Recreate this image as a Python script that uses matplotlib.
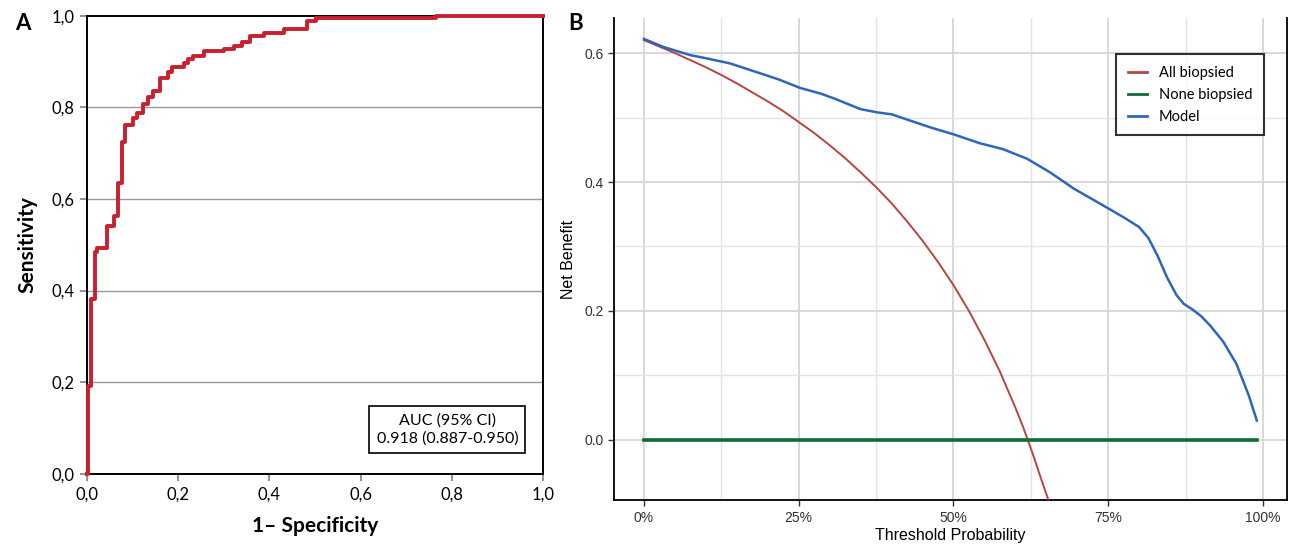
import matplotlib
matplotlib.use('Agg')
import matplotlib.pyplot as plt
from matplotlib.ticker import FixedLocator, FuncFormatter

# panel A: ROC curve, step corners (fpr where tpr jumps)
roc_fpr = [0.0, 0.003, 0.009, 0.017, 0.022, 0.044, 0.060, 0.069, 0.077, 0.084,
           0.101, 0.110, 0.124, 0.134, 0.145, 0.161, 0.177, 0.187, 0.214, 0.221,
           0.233, 0.256, 0.300, 0.323, 0.340, 0.357, 0.389, 0.432, 0.482, 0.502,
           0.764, 1.0]
roc_tpr = [0.0, 0.192, 0.382, 0.485, 0.492, 0.541, 0.563, 0.635, 0.725, 0.761,
           0.777, 0.788, 0.808, 0.823, 0.836, 0.865, 0.876, 0.887, 0.896, 0.905,
           0.913, 0.924, 0.927, 0.934, 0.942, 0.956, 0.962, 0.970, 0.988, 0.995,
           1.0, 1.0]
auc_text = 'AUC (95% CI)\n0.918 (0.887-0.950)'

# panel B: decision curve
all_pt = [0.0, 0.025, 0.05, 0.075, 0.10, 0.125, 0.15, 0.175, 0.20, 0.225, 0.25,
          0.275, 0.30, 0.325, 0.35, 0.375, 0.40, 0.425, 0.45, 0.475, 0.50, 0.525,
          0.55, 0.575, 0.60, 0.6125, 0.62, 0.63, 0.64, 0.66]
all_nb = [0.620, 0.610, 0.600, 0.589, 0.578, 0.566, 0.553, 0.539, 0.525, 0.510,
          0.493, 0.476, 0.457, 0.437, 0.415, 0.392, 0.367, 0.339, 0.309, 0.276,
          0.240, 0.200, 0.155, 0.106, 0.050, 0.020, 0.0, -0.027, -0.056, -0.112]

none_pt = [0.0, 0.99]
none_nb = [0.0, 0.0]

model_pt = [0.0, 0.03, 0.074, 0.10, 0.139, 0.177, 0.218, 0.252, 0.286, 0.306,
            0.35, 0.377, 0.40, 0.437, 0.465, 0.50, 0.543, 0.58, 0.619, 0.656,
            0.694, 0.732, 0.752, 0.777, 0.800, 0.815, 0.830, 0.845, 0.860, 0.872,
            0.885, 0.900, 0.915, 0.936, 0.957, 0.977, 0.99]
model_nb = [0.622, 0.610, 0.597, 0.592, 0.584, 0.572, 0.559, 0.546, 0.537, 0.530,
            0.513, 0.508, 0.505, 0.493, 0.484, 0.474, 0.460, 0.451, 0.436, 0.415,
            0.390, 0.369, 0.358, 0.344, 0.330, 0.313, 0.285, 0.252, 0.225, 0.211,
            0.203, 0.192, 0.177, 0.152, 0.118, 0.069, 0.030]

fig = plt.figure(figsize=(12.91, 5.45), dpi=100)

# ---------------- A ----------------
axA = fig.add_axes([0.0672, 0.1308, 0.3537, 0.8404])
calib = ['Lato', 'DejaVu Sans']
axA.set_xlim(0, 1)
axA.set_ylim(0, 1)
for y in [0.2, 0.4, 0.6, 0.8]:
    axA.axhline(y, color='#9a9a9a', lw=1.0, zorder=1)
axA.plot(roc_fpr, roc_tpr, drawstyle='steps-post', color='#c8202e', lw=2.8,
         zorder=3, clip_on=False)
for s in axA.spines.values():
    s.set_color('black')
    s.set_linewidth(1.4)
ticks = [0, 0.2, 0.4, 0.6, 0.8, 1.0]
axA.set_xticks(ticks)
axA.set_yticks(ticks)
comma = FuncFormatter(lambda v, p: ('%.1f' % v).replace('.', ','))
axA.xaxis.set_major_formatter(comma)
axA.yaxis.set_major_formatter(comma)
axA.tick_params(length=5, width=1.3, color='#888888', pad=4, labelsize=12,
                labelfontfamily='Lato')
axA.set_xlabel('1\u2013 Specificity', family=calib, fontsize=15, fontweight='bold',
               labelpad=10)
axA.set_ylabel('Sensitivity', family=calib, fontsize=15, fontweight='bold',
               labelpad=10)
axA.text(0.79, 0.0965, auc_text, transform=axA.transAxes, ha='center', va='center',
         family=calib, fontsize=11.5, linespacing=1.35,
         bbox=dict(boxstyle='square,pad=0.45', fc='white', ec='black', lw=1.2))
fig.text(23 / 1291, 1 - 23 / 545, 'A', family=calib, fontsize=16,
         fontweight='bold', ha='center', va='center')

# ---------------- B ----------------
arial = ['Liberation Sans', 'DejaVu Sans']
axB = fig.add_axes([0.4756, 0.0817, 0.5215, 0.8848])
axB.set_xlim(-0.0484, 1.0392)
axB.set_ylim(-0.094, 0.654)
axB.xaxis.set_major_locator(FixedLocator([0, 0.25, 0.5, 0.75, 1.0]))
axB.xaxis.set_minor_locator(FixedLocator([0.125, 0.375, 0.625, 0.875]))
axB.yaxis.set_major_locator(FixedLocator([0.0, 0.2, 0.4, 0.6]))
axB.yaxis.set_minor_locator(FixedLocator([0.1, 0.3, 0.5]))
axB.xaxis.set_major_formatter(FuncFormatter(lambda v, p: '%d%%' % round(v * 100)))
axB.yaxis.set_major_formatter(FuncFormatter(lambda v, p: '%.1f' % v))
axB.grid(which='major', color='#d6d6d6', lw=1.3, zorder=0)
axB.grid(which='minor', color='#e4e4e4', lw=1.0, zorder=0)
axB.set_axisbelow(True)
axB.tick_params(which='major', length=4.5, width=1.0, color='#333333',
                labelcolor='#333333', labelsize=10, pad=3,
                labelfontfamily='Liberation Sans')
axB.tick_params(which='minor', length=0)
axB.spines['top'].set_visible(False)
for k in ['left', 'bottom', 'right']:
    axB.spines[k].set_color('black')
    axB.spines[k].set_linewidth(1.3)

axB.plot(all_pt, all_nb, color='#b8453f', lw=1.4, label='All biopsied', zorder=3)
axB.plot(none_pt, none_nb, color='#116b35', lw=2.6, label='None biopsied', zorder=3)
axB.plot(model_pt, model_nb, color='#2f66bb', lw=1.8, label='Model', zorder=4)

axB.set_xlabel('Threshold Probability', family=arial, fontsize=11.5, labelpad=2)
axB.set_ylabel('Net Benefit', family=arial, fontsize=11.5, labelpad=6)

leg = axB.legend(loc='upper right', bbox_to_anchor=(0.965, 0.926), borderaxespad=0,
                 frameon=True, fancybox=False, edgecolor='black',
                 prop={'family': calib, 'size': 10.5}, handlelength=1.3,
                 handletextpad=0.8, borderpad=0.8, labelspacing=0.55)
leg.get_frame().set_linewidth(1.5)
for line in leg.get_lines():
    line.set_linewidth(2.0)

fig.text(576 / 1291, 1 - 23 / 545, 'B', family=calib, fontsize=16,
         fontweight='bold', ha='center', va='center')

fig.savefig('out.png', dpi=100)
